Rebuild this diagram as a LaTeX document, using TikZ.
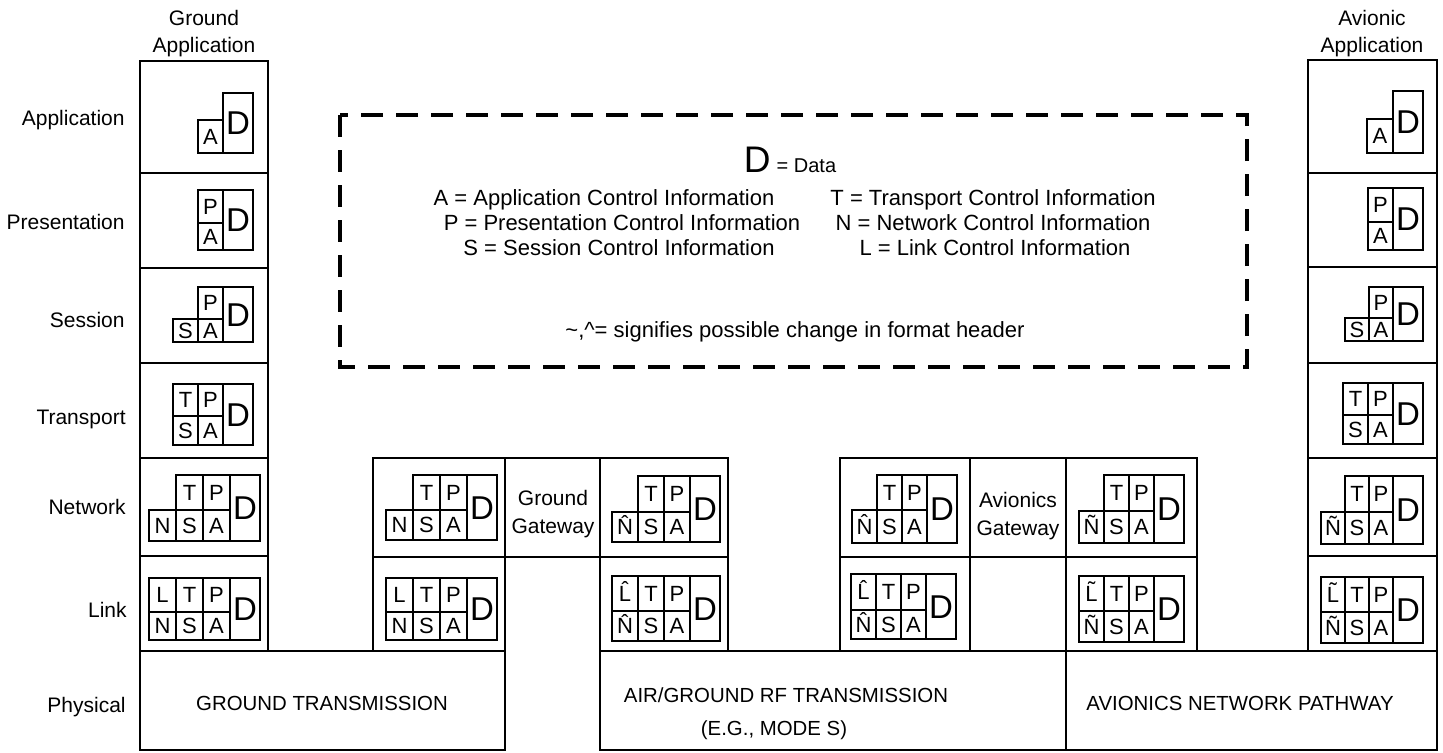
\documentclass[tikz,border=0pt]{standalone}
\usepackage{fontspec}
\setmainfont{Liberation Sans}
% packet: #1 prefix, #2 right x, #3 top y, #4 middle y, #5 bottom y,
% #6 lower row labels (right to left), #7 upper row labels (right to left), #8 cell width
\newcommand{\pkt}[8]{%
  \draw[pkline] ({#2-30},#3) rectangle (#2,#5);
  \node[dlab] (#1-D) at ({#2-15},{(#3+#5)/2}) {D};
  \foreach \lab [count=\i] in {#6} {
    \draw[pkline] ({#2-30-\i*#8},#4) rectangle ({#2-30-(\i-1)*#8},#5);
    \node[clab] (#1-b\i) at ({#2-30-(\i-0.5)*#8},{(#4+#5)/2}) {\lab};
  }
  \if\relax\detokenize{#7}\relax\else
  \foreach \lab [count=\i] in {#7} {
    \draw[pkline] ({#2-30-\i*#8},#3) rectangle ({#2-30-(\i-1)*#8},#4);
    \node[clab] (#1-t\i) at ({#2-30-(\i-0.5)*#8},{(#3+#4)/2}) {\lab};
  }\fi
}
\begin{document}
\begin{tikzpicture}[x=0.5pt,y=-0.5pt,
  frame/.style={line width=1.45pt},
  pkline/.style={line width=1.2pt},
  clab/.style={inner sep=0pt, text height=7.9pt, text depth=0pt, font=\fontsize{11}{11}\selectfont},
  dlab/.style={inner sep=0pt, text height=11.8pt, text depth=0pt, font=\fontsize{16.5}{16.5}\selectfont},
  layer/.style={anchor=east, inner sep=0pt, text height=7.5pt, text depth=0pt, font=\fontsize{10.5}{12}\selectfont},
  head/.style={inner sep=0pt, text height=7.5pt, text depth=0pt, font=\fontsize{10.5}{12}\selectfont},
  key/.style={inner sep=0pt, text height=7.9pt, text depth=0pt, font=\fontsize{11}{13}\selectfont},
  phys/.style={inner sep=0pt, text height=7.2pt, text depth=0pt, font=\fontsize{10.2}{12}\selectfont},
  legendbox/.style={line width=1.7pt, dash pattern=on 11pt off 6.5pt}
]
\useasboundingbox (0,0) rectangle (1443,752);

% ---------- headers ----------
\node[head] (gh1) at (204,18) {Ground};
\node[head] (gh2) at (204,45) {Application};
\node[head] (ah1) at (1372,18) {Avionic};
\node[head] (ah2) at (1372,45) {Application};

% ---------- layer names ----------
\node[layer] (lApp) at (125,118) {Application};
\node[layer] (lPre) at (125,222) {Presentation};
\node[layer] (lSes) at (125,320) {Session};
\node[layer] (lTra) at (126,417) {Transport};
\node[layer] (lNet) at (126,507) {Network};
\node[layer] (lLin) at (127,610) {Link};
\node[layer] (lPhy) at (126,705) {Physical};

% ---------- ground application column ----------
\foreach \ya/\yb in {61/173,173/268,268/363,363/458,458/556,556/651}
  \draw[frame] (140,\ya) rectangle (268,\yb);
% ---------- avionic application column ----------
\foreach \ya/\yb in {60/173,173/267,267/363,363/458,458/556,556/651}
  \draw[frame] (1308,\ya) rectangle (1437,\yb);

% ---------- ground gateway ----------
\draw[frame] (373,458) rectangle (505,557);
\draw[frame] (373,557) rectangle (505,651);
\draw[frame] (505,458) rectangle (600,557);
\draw[frame] (600,458) rectangle (728,557);
\draw[frame] (600,557) rectangle (728,651);
\node[head] (gg1) at (553,498) {Ground};
\node[head] (gg2) at (553,526) {Gateway};

% ---------- avionics gateway ----------
\draw[frame] (840,458) rectangle (970,557);
\draw[frame] (840,557) rectangle (970,651);
\draw[frame] (970,458) rectangle (1066,557);
\draw[frame] (1066,458) rectangle (1197,557);
\draw[frame] (1066,557) rectangle (1197,651);
\node[head] (ag1) at (1018,500) {Avionics};
\node[head] (ag2) at (1018,528) {Gateway};

% ---------- physical ----------
\draw[frame] (140,651) rectangle (505,750);
\draw[frame] (600,651) rectangle (1066,750);
\draw[frame] (1066,651) rectangle (1437,750);
\node[phys] (ph1) at (322,703) {GROUND TRANSMISSION};
\node[phys] (ph2a) at (786,695) {AIR/GROUND RF TRANSMISSION};
\node[phys] (ph2b) at (774,728) {(E.G., MODE S)};
\node[phys] (ph3) at (1240,703) {AVIONICS NETWORK PATHWAY};

% ---------- packets: ground application ----------
\pkt{gaA}{253}{93}{120}{153}{A}{}{25}
\pkt{gaP}{253}{190}{223}{250}{A}{P}{25}
\pkt{gaS}{253}{287}{319}{342}{A,S}{P}{25}
\pkt{gaT}{253}{384}{416}{445}{A,S}{P,T}{25}
\pkt{gaN}{260}{475}{510}{541}{A,S,N}{P,T}{27}
\pkt{gaL}{260}{578}{612}{640}{A,S,N}{P,T,L}{27}

% ---------- packets: ground gateway ----------
\pkt{ggNL}{497}{475}{510}{540}{A,S,N}{P,T}{27}
\pkt{ggLL}{497}{578}{612}{640}{A,S,N}{P,T,L}{27}
\pkt{ggNR}{720}{476}{512}{542}{A,S,\^{N}}{P,T}{26}
\pkt{ggLR}{720}{576}{611}{641}{A,S,\^{N}}{P,T,\^{L}}{26}

% ---------- packets: avionics gateway ----------
\pkt{agNL}{957}{475}{510}{543}{A,S,\^{N}}{P,T}{25}
\pkt{agLL}{956}{574}{610}{639}{A,S,\^{N}}{P,T,\^{L}}{25}
\pkt{agNR}{1184}{475}{511}{543}{A,S,\~{N}}{P,T}{25}
\pkt{agLR}{1184}{576}{611}{642}{A,S,\~{N}}{P,T,\~{L}}{25}

% ---------- packets: avionic application ----------
\pkt{aaA}{1423}{91}{119}{153}{A}{}{26}
\pkt{aaP}{1423}{188}{222}{250}{A}{P}{25}
\pkt{aaS}{1423}{287}{318}{341}{A,S}{P}{24}
\pkt{aaT}{1423}{383}{415}{444}{A,S}{P,T}{25}
\pkt{aaN}{1423}{476}{512}{544}{A,S,\~{N}}{P,T}{24}
\pkt{aaL}{1423}{577}{612}{643}{A,S,\~{N}}{P,T,\~{L}}{24}

% ---------- legend ----------
\draw[legendbox] (340,115) rectangle (1247,367);
\node[key] (kD) at (790,165) {{\fontsize{18.5}{18.5}\selectfont D} {\fontsize{10}{12}\selectfont = Data}};
\node[key] (kA) at (604,198) {A = Application Control Information};
\node[key] (kP) at (622,223) {P = Presentation Control Information};
\node[key] (kS) at (619,248) {S = Session Control Information};
\node[key] (kT) at (993,198) {T = Transport Control Information};
\node[key] (kN) at (993,223) {N = Network Control Information};
\node[key] (kL) at (995,248) {L = Link Control Information};
\node[key] (kX) at (795,330) {\textasciitilde,\textasciicircum= signifies possible change in format header};
\end{tikzpicture}
\end{document}
